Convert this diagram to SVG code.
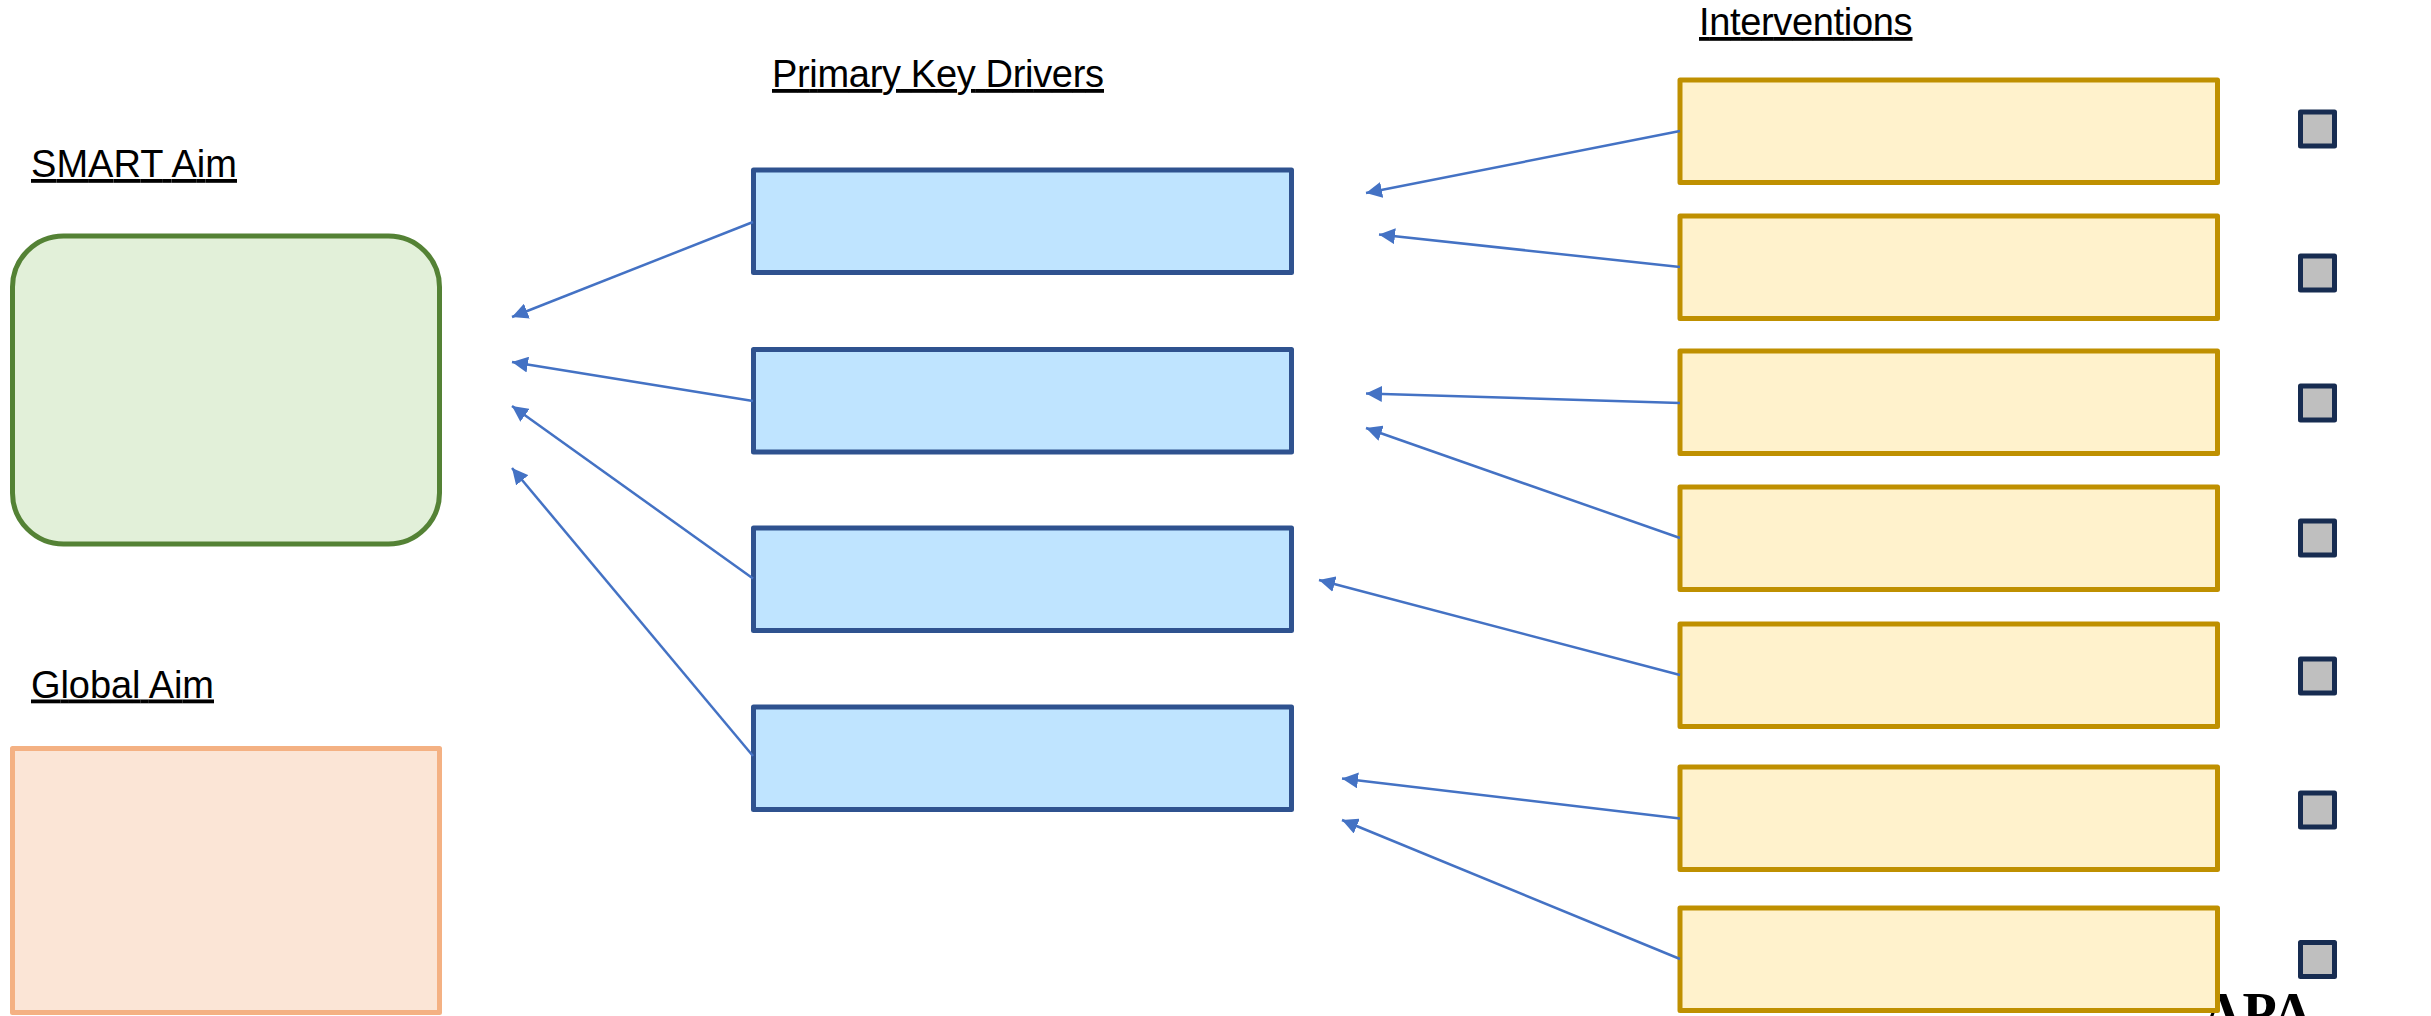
<svg xmlns="http://www.w3.org/2000/svg" width="2431" height="1016" viewBox="0 0 2431 1016">
<style>
.t{font-family:"Liberation Sans",Arial,sans-serif;font-size:38px;fill:#000;text-decoration:underline;text-decoration-thickness:3px;text-underline-offset:4.500px;text-decoration-skip-ink:none}
.a{font-family:"Liberation Serif","Times New Roman",serif;font-size:56px;font-weight:bold;fill:#000}
.d{fill:#BFE4FF;stroke:#2F528F;stroke-width:5;stroke-linejoin:round}
.i{fill:#FFF2CC;stroke:#BF9000;stroke-width:5;stroke-linejoin:round}
.s{fill:#BFBFBF;stroke:#172C51;stroke-width:5;stroke-linejoin:round}
.c{fill:none;stroke:#4472C4;stroke-width:2.500;marker-end:url(#h)}
</style>
<defs><marker id="h" markerUnits="userSpaceOnUse" markerWidth="18" markerHeight="16" refX="16" refY="8" orient="auto"><path d="M0 0L16 8L0 16Z" fill="#4472C4"/></marker></defs>
<rect width="2431" height="1016" fill="#fff"/>
<g id="apa"><text class="a" x="2202" y="1031.500">APA</text></g>
<g id="labels">
<text class="t" x="31" y="177" textLength="206">SMART Aim</text>
<text class="t" x="31" y="697.500" textLength="183">Global Aim</text>
<text class="t" x="772" y="87" textLength="332">Primary Key Drivers</text>
<text class="t" x="1699" y="35" textLength="213.500">Interventions</text>
</g>
<g id="smart-aim"><rect x="12.500" y="236" width="427" height="308" rx="51" fill="#E2F0D9" stroke="#548235" stroke-width="5"/></g>
<g id="global-aim"><rect x="12.500" y="748.500" width="427" height="264" fill="#FBE5D6" stroke="#F4B183" stroke-width="5" stroke-linejoin="round"/></g>
<g id="driver-1"><rect class="d" x="753.500" y="170" width="538" height="102.500"/></g>
<g id="driver-2"><rect class="d" x="753.500" y="349.500" width="538" height="102.500"/></g>
<g id="driver-3"><rect class="d" x="753.500" y="528" width="538" height="102.500"/></g>
<g id="driver-4"><rect class="d" x="753.500" y="707" width="538" height="102.500"/></g>
<g id="intervention-1"><rect class="i" x="1680" y="80" width="537.500" height="102.500"/></g>
<g id="intervention-2"><rect class="i" x="1680" y="216" width="537.500" height="102.500"/></g>
<g id="intervention-3"><rect class="i" x="1680" y="351" width="537.500" height="102.500"/></g>
<g id="intervention-4"><rect class="i" x="1680" y="487" width="537.500" height="102.500"/></g>
<g id="intervention-5"><rect class="i" x="1680" y="624" width="537.500" height="102.500"/></g>
<g id="intervention-6"><rect class="i" x="1680" y="767" width="537.500" height="102.500"/></g>
<g id="intervention-7"><rect class="i" x="1680" y="908" width="537.500" height="102.500"/></g>
<g id="square-1"><rect class="s" x="2300.500" y="112" width="34" height="34"/></g>
<g id="square-2"><rect class="s" x="2300.500" y="256" width="34" height="34"/></g>
<g id="square-3"><rect class="s" x="2300.500" y="386" width="34" height="34"/></g>
<g id="square-4"><rect class="s" x="2300.500" y="521" width="34" height="34"/></g>
<g id="square-5"><rect class="s" x="2300.500" y="659" width="34" height="34"/></g>
<g id="square-6"><rect class="s" x="2300.500" y="793" width="34" height="34"/></g>
<g id="square-7"><rect class="s" x="2300.500" y="942.500" width="34" height="34"/></g>
<g id="connectors">
<path class="c" d="M753 222L512 317"/>
<path class="c" d="M753 401L512 362"/>
<path class="c" d="M753 578.500L512 406"/>
<path class="c" d="M753 756L512 468"/>
<path class="c" d="M1680 131L1366 193"/>
<path class="c" d="M1680 267L1379 234.500"/>
<path class="c" d="M1680 403L1366 393.500"/>
<path class="c" d="M1680 538L1366 428"/>
<path class="c" d="M1680 675L1319 580"/>
<path class="c" d="M1680 818.500L1342 778.500"/>
<path class="c" d="M1680 959L1342 820"/>
</g>
</svg>
